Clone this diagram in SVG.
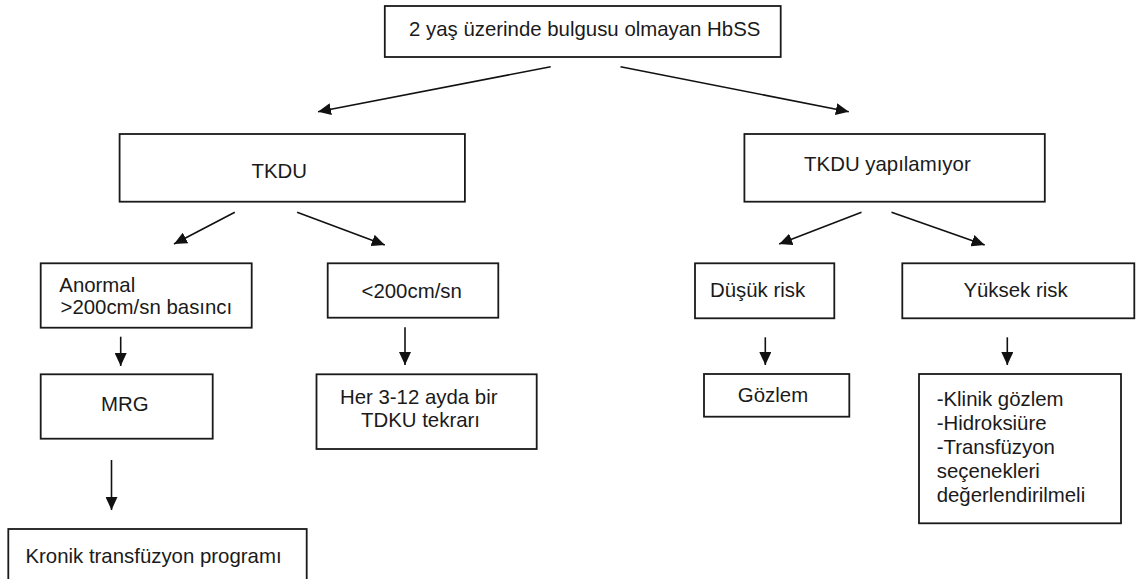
<svg xmlns="http://www.w3.org/2000/svg" width="1136" height="579" viewBox="0 0 1136 579">
<style>
.box{fill:#ffffff;stroke:#1a1a1a;stroke-width:1.8}
.t{font-family:"Liberation Sans",Arial,sans-serif;font-size:20.4px;fill:#1a1a1a}
.m{text-anchor:middle}
.c{stroke:#111;stroke-width:1.6;fill:none;marker-end:url(#ah)}
</style>
<defs>
<marker id="ah" markerWidth="13" markerHeight="12" refX="13" refY="6" orient="auto" markerUnits="userSpaceOnUse">
<path d="M0,0 L13,6 L0,12 z" fill="#111"/>
</marker>
</defs>
<rect width="1136" height="579" fill="#ffffff"/>
<g id="connectors">
<line class="c" x1="550.7" y1="66.7" x2="318" y2="111.7"/>
<line class="c" x1="620.5" y1="66.7" x2="848.8" y2="111.7"/>
<line class="c" x1="234.8" y1="212.3" x2="174" y2="244"/>
<line class="c" x1="297.1" y1="212.3" x2="384.8" y2="245"/>
<line class="c" x1="861.5" y1="212.3" x2="779.2" y2="244"/>
<line class="c" x1="891.5" y1="212.3" x2="984.7" y2="245"/>
<line class="c" x1="120.7" y1="336.7" x2="120.7" y2="366"/>
<line class="c" x1="405" y1="327.3" x2="405" y2="365"/>
<line class="c" x1="765.3" y1="337.3" x2="765.3" y2="365"/>
<line class="c" x1="1007.3" y1="337.3" x2="1007.3" y2="365"/>
<line class="c" x1="111.5" y1="460" x2="111.5" y2="510"/>
</g>
<g id="n-root">
<rect class="box" x="384.8" y="6" width="395.9" height="51"/>
<text class="t m" x="584.7" y="36">2 yaş üzerinde bulgusu olmayan HbSS</text>
</g>
<g id="n-tkdu">
<rect class="box" x="119.6" y="134" width="345.3" height="67.7"/>
<text class="t m" x="279.2" y="177.7">TKDU</text>
</g>
<g id="n-tkdu-yok">
<rect class="box" x="744.4" y="134" width="300.4" height="67.7"/>
<text class="t m" x="887.4" y="170.7">TKDU yapılamıyor</text>
</g>
<g id="n-anormal">
<rect class="box" x="40.7" y="263.3" width="211" height="64.4"/>
<text class="t" x="59.3" y="291.7">Anormal</text>
<text class="t" x="60.5" y="314.3">&gt;200cm/sn basıncı</text>
</g>
<g id="n-normal">
<rect class="box" x="327.7" y="263.3" width="170.6" height="54.4"/>
<text class="t m" x="411.7" y="298.3">&lt;200cm/sn</text>
</g>
<g id="n-dusuk">
<rect class="box" x="695" y="263.3" width="139.3" height="55"/>
<text class="t" x="710" y="296.7">Düşük risk</text>
</g>
<g id="n-yuksek">
<rect class="box" x="902.3" y="263.3" width="232" height="55"/>
<text class="t m" x="1015.5" y="296.7">Yüksek risk</text>
</g>
<g id="n-mrg">
<rect class="box" x="40.7" y="374.3" width="172" height="64.4"/>
<text class="t m" x="124.9" y="410.7">MRG</text>
</g>
<g id="n-her">
<rect class="box" x="316.5" y="374.3" width="220.2" height="74.7"/>
<text class="t m" x="418.7" y="404.3">Her 3-12 ayda bir</text>
<text class="t m" x="420.5" y="426.7">TDKU tekrarı</text>
</g>
<g id="n-gozlem">
<rect class="box" x="704" y="374" width="145.3" height="42.7"/>
<text class="t m" x="773" y="401.7">Gözlem</text>
</g>
<g id="n-liste">
<rect class="box" x="919" y="374" width="202" height="149.3"/>
<text class="t" x="936.7" y="406">-Klinik gözlem</text>
<text class="t" x="936.7" y="430">-Hidroksiüre</text>
<text class="t" x="936.7" y="454">-Transfüzyon</text>
<text class="t" x="936.7" y="478">seçenekleri</text>
<text class="t" x="936.7" y="502">değerlendirilmeli</text>
</g>
<g id="n-kronik">
<rect class="box" x="8.3" y="529" width="298.4" height="60"/>
<text class="t m" x="153.5" y="563">Kronik transfüzyon programı</text>
</g>
</svg>
